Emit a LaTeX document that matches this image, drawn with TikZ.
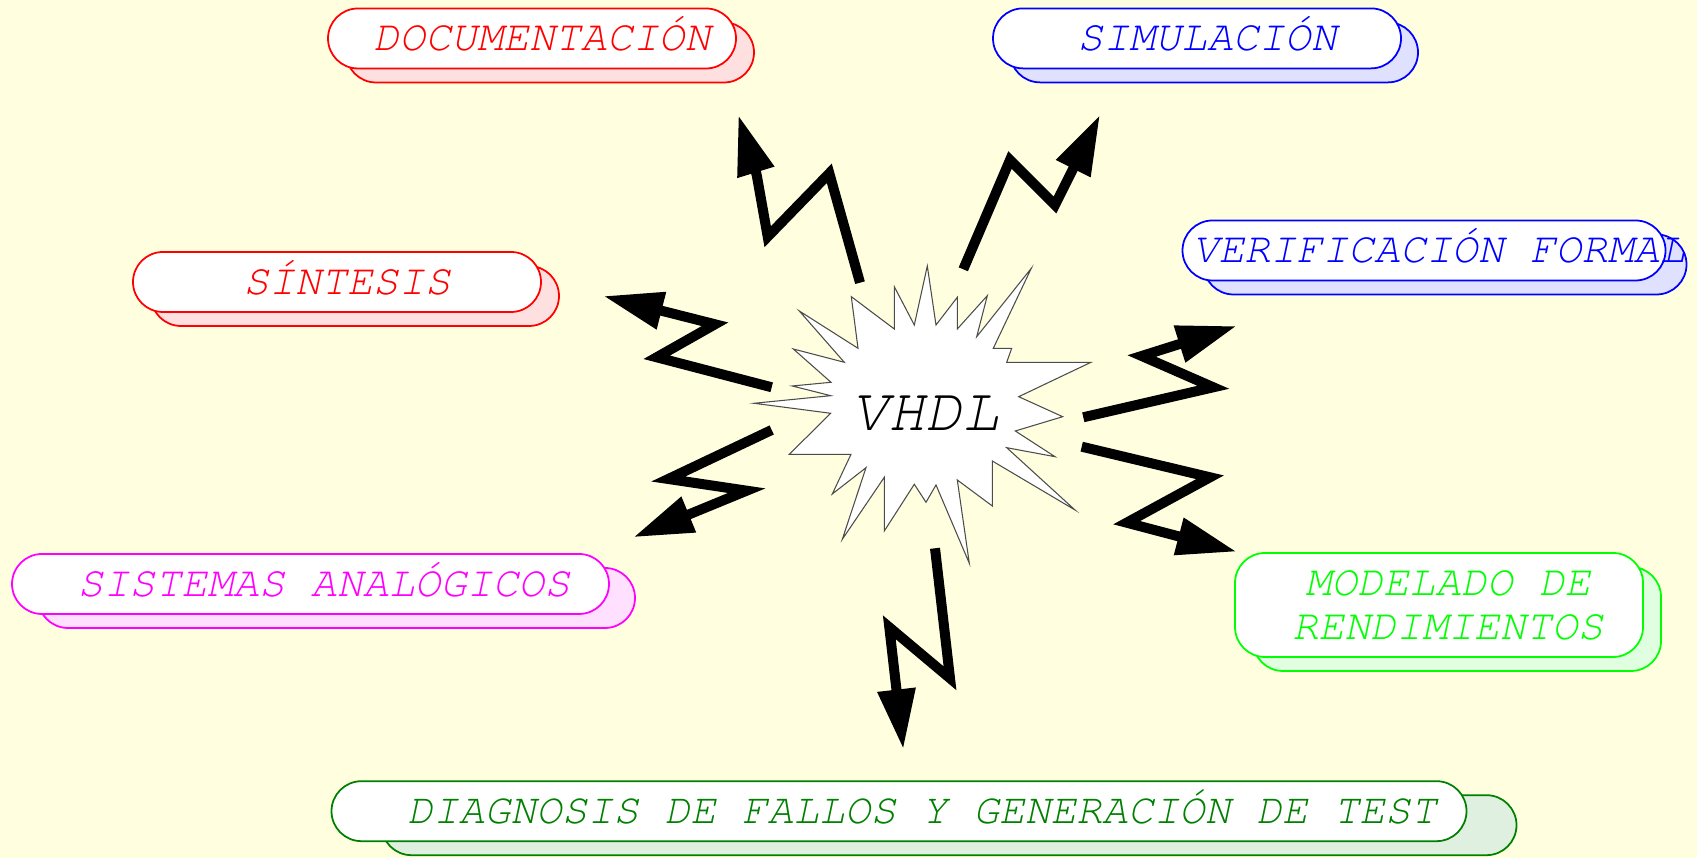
\documentclass[tikz,border=0pt]{standalone}
\usepackage{fontspec}
\usepackage[T1,TU]{fontenc}
\usetikzlibrary{arrows.meta,shadows}
\definecolor{bgyellow}{RGB}{255,255,224}
\definecolor{darkgreen}{RGB}{0,128,0}
\definecolor{brightgreen}{RGB}{0,255,0}
\definecolor{purplepink}{RGB}{255,0,255}
\definecolor{pureblue}{RGB}{0,0,255}
\definecolor{purered}{RGB}{255,0,0}
\newcommand{\courslant}{\fontencoding{T1}\fontfamily{pcr}\fontseries{m}\fontshape{sl}\selectfont}

\begin{document}
\begin{tikzpicture}[
pill/.style n args={2}{
draw=#1,
text=#1,
fill=white,
line width=0.5pt,
rounded corners=0.3cm,
minimum height=0.6cm,
minimum width=4.08cm,
inner xsep=2pt,
font=\fontsize{12.3}{12.6}\courslant,
copy shadow={shadow xshift=#2, shadow yshift=-0.14cm, fill=#1!12, draw=#1, line width=0.5pt}
},
oneline/.style={text height=1.9ex, text depth=0.25ex},
bolt/.style={
line width=0.1cm,
line join=miter,
-{Triangle[length=0.6cm,width=0.36cm]}
}
]

\fill[bgyellow] (0,0) rectangle (16.97,8.58);
\useasboundingbox (0,0) rectangle (16.97,8.58);

% the explosion
\draw[draw=black!70, line width=0.3pt, fill=white]
(7.54,4.547) -- (8.307,4.623) -- (7.923,4.72) -- (8.31,4.757) -- (7.933,5.09) --
(8.443,4.957) -- (7.993,5.47) -- (8.58,5.097) -- (8.513,5.613) -- (8.943,5.29) --
(8.943,5.713) -- (9.143,5.33) -- (9.273,5.92) -- (9.36,5.33) -- (9.573,5.607) --
(9.573,5.29) -- (9.873,5.623) -- (9.767,5.213) -- (10.313,5.897) -- (9.933,5.097) --
(10.117,5.097) -- (10.067,4.957) -- (10.91,4.957) -- (10.187,4.613) -- (10.627,4.413) --
(10.153,4.27) -- (10.55,4.013) -- (10.067,4.103) -- (10.75,3.48) -- (9.923,3.97) --
(9.923,3.52) -- (9.573,3.78) -- (9.693,2.947) -- (9.36,3.73) -- (9.26,3.557) --
(9.143,3.737) -- (8.843,3.27) -- (8.843,3.807) -- (8.423,3.187) -- (8.66,3.903) --
(8.323,3.64) -- (8.51,4.037) -- (7.893,4.037) -- (8.307,4.447) -- cycle;

\node[font=\fontsize{17.5}{20}\courslant] (vhdl) at (9.255,4.44) {VHDL};

% application boxes
\node[pill={purered}{0.18cm}, oneline] (doc) at (5.32,8.195) {\hspace*{0.2cm}DOCUMENTACIÓN};
\node[pill={pureblue}{0.17cm}, oneline] (sim) at (11.97,8.196) {\hspace*{0.2cm}SIMULACIÓN};
\node[pill={pureblue}{0.21cm}, oneline, minimum width=4.83cm, inner xsep=0pt] (verif) at (14.24,6.075) {VERIFICACIÓN FORMAL\hspace*{-0.3cm}};
\node[pill={purered}{0.18cm}, oneline] (sint) at (3.37,5.76) {\hspace*{0.2cm}SÍNTESIS};
\node[pill={purplepink}{0.26cm}, oneline, minimum width=5.97cm] (analog) at (3.105,2.74) {\hspace*{0.27cm}SISTEMAS ANALÓGICOS};
\node[pill={brightgreen}{0.18cm}, minimum height=1.04cm, align=center] (model) at (14.39,2.53) {\hspace*{0.18cm}MODELADO DE\\\hspace*{0.18cm}RENDIMIENTOS};
\node[pill={darkgreen}{0.5cm}, oneline, minimum width=11.35cm, font=\fontsize{12.2}{12.6}\courslant] (diag) at (8.99,0.468) {\hspace*{0.46cm}DIAGNOSIS DE FALLOS Y GENERACIÓN DE TEST};

% bolt ends
\coordinate (t1) at (8.60,5.753);
\coordinate (h1) at (7.383,7.43);
\coordinate (t2) at (9.633,5.887);
\coordinate (h2) at (11.0,7.43);
\coordinate (t3) at (7.717,4.707);
\coordinate (h3) at (6.033,5.62);
\coordinate (t4) at (7.717,4.28);
\coordinate (h4) at (6.333,3.207);
\coordinate (t5) at (10.833,4.407);
\coordinate (h5) at (12.367,5.32);
\coordinate (t6) at (10.817,4.113);
\coordinate (h6) at (12.367,3.063);
\coordinate (t7) at (9.35,3.097);
\coordinate (h7) at (9.033,1.087);

\draw[bolt] (t1) -- (8.293,6.847) -- (7.677,6.213) -- (7.567,6.83) -- (h1);
\draw[bolt] (t2) -- (10.10,6.98) -- (10.55,6.53) -- (h2);
\draw[bolt] (t3) -- (6.567,5.007) -- (7.15,5.337) -- (h3);
\draw[bolt] (t4) -- (6.683,3.79) -- (7.467,3.673) -- (h4);
\draw[bolt] (t5) -- (12.133,4.707) -- (11.417,5.02) -- (h5);
\draw[bolt] (t6) -- (12.10,3.807) -- (11.267,3.353) -- (h6);
\draw[bolt] (t7) -- (9.50,1.797) -- (8.893,2.307) -- (h7);

\end{tikzpicture}
\end{document}
